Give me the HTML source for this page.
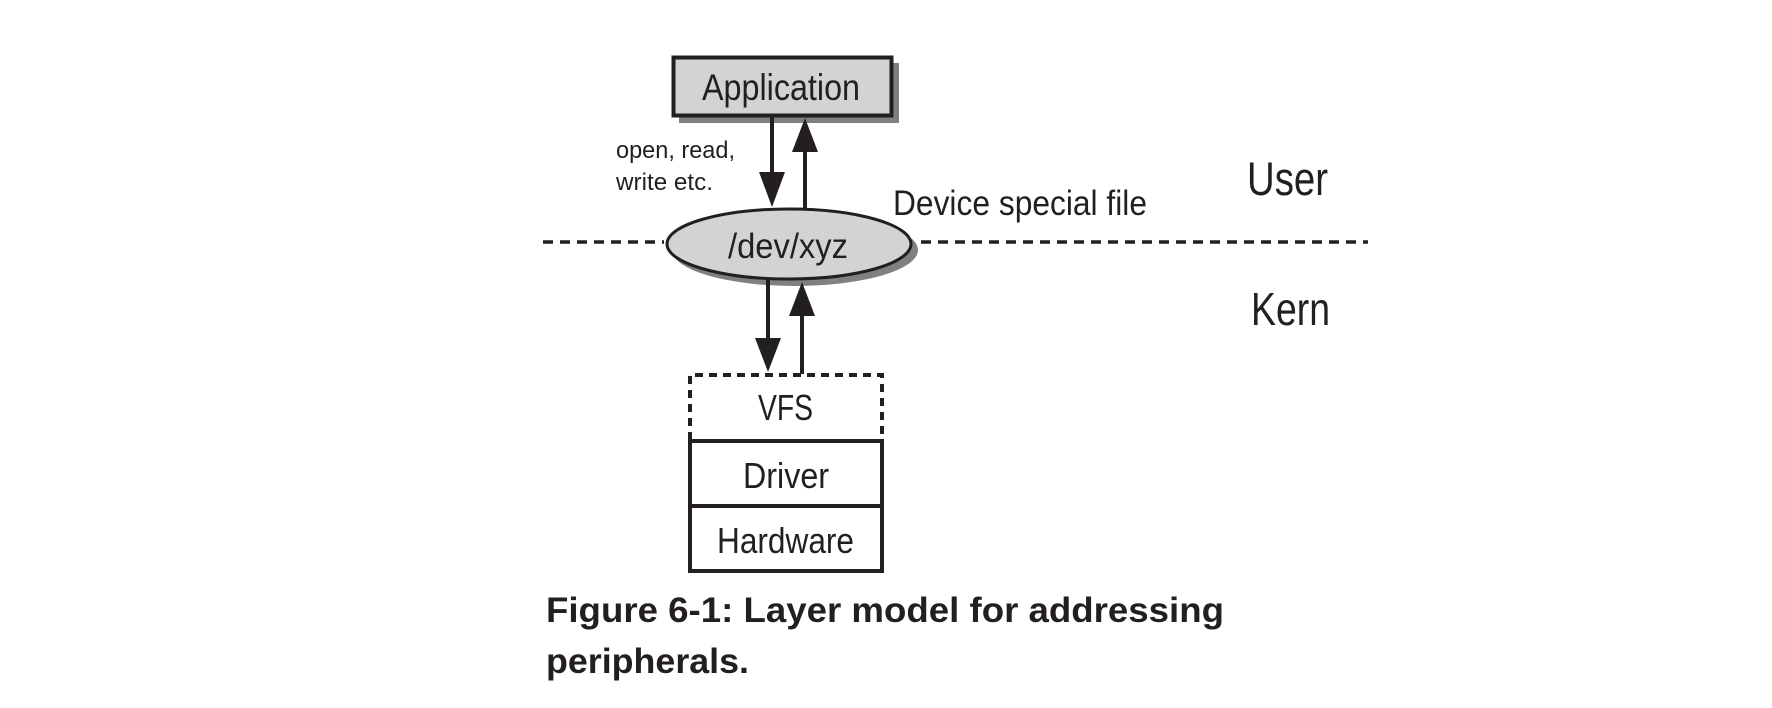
<!DOCTYPE html>
<html><head><meta charset="utf-8"><style>
html,body{margin:0;padding:0;background:#fff;}
svg{display:block;}
text{font-family:"Liberation Sans",sans-serif;fill:#231f20;}
</style></head><body>
<svg width="1772" height="708" viewBox="0 0 1772 708" xmlns="http://www.w3.org/2000/svg">
<!-- dashed separator -->
<line x1="543" y1="242" x2="664" y2="242" stroke="#231f20" stroke-width="3.5" stroke-dasharray="10,7"/>
<line x1="921" y1="242" x2="1368" y2="242" stroke="#231f20" stroke-width="3.5" stroke-dasharray="10,7"/>
<!-- Application box -->
<rect x="679" y="63" width="220" height="60" fill="#808080"/>
<rect x="673.5" y="57.5" width="218" height="58" fill="#d2d3d5" stroke="#231f20" stroke-width="4"/>
<text x="702" y="100" font-size="37" textLength="158" lengthAdjust="spacingAndGlyphs">Application</text>
<!-- top arrows -->
<line x1="772" y1="116" x2="772" y2="180" stroke="#231f20" stroke-width="4"/>
<polygon points="759,172 785,172 772,207" fill="#231f20"/>
<line x1="805" y1="140" x2="805" y2="208" stroke="#231f20" stroke-width="4"/>
<polygon points="792,152 818,152 805,118" fill="#231f20"/>
<text x="616" y="158" font-size="24" textLength="119" lengthAdjust="spacingAndGlyphs">open, read,</text>
<text x="616" y="190" font-size="24" textLength="97" lengthAdjust="spacingAndGlyphs">write etc.</text>
<!-- ellipse -->
<ellipse cx="795" cy="250" rx="123" ry="36" fill="#808080"/>
<ellipse cx="789" cy="244" rx="122" ry="35" fill="#d2d3d5" stroke="#231f20" stroke-width="3"/>
<text x="728" y="258" font-size="35" textLength="120" lengthAdjust="spacingAndGlyphs">/dev/xyz</text>
<text x="893" y="215" font-size="35" textLength="254" lengthAdjust="spacingAndGlyphs">Device special file</text>
<text x="1247" y="195" font-size="47" textLength="81" lengthAdjust="spacingAndGlyphs">User</text>
<text x="1251" y="325" font-size="46" textLength="79" lengthAdjust="spacingAndGlyphs">Kern</text>
<!-- lower arrows -->
<line x1="768" y1="280" x2="768" y2="345" stroke="#231f20" stroke-width="4"/>
<polygon points="755,338 781,338 768,372" fill="#231f20"/>
<line x1="802" y1="305" x2="802" y2="374" stroke="#231f20" stroke-width="4"/>
<polygon points="789,316 815,316 802,282" fill="#231f20"/>
<!-- VFS dashed box -->
<path d="M690,440 L690,375 L882,375 L882,440" fill="none" stroke="#231f20" stroke-width="4" stroke-dasharray="8,6"/>
<text x="758" y="420" font-size="36" textLength="55" lengthAdjust="spacingAndGlyphs">VFS</text>
<rect x="690" y="441" width="192" height="130" fill="none" stroke="#231f20" stroke-width="4"/>
<line x1="690" y1="506" x2="882" y2="506" stroke="#231f20" stroke-width="4"/>
<text x="743" y="488" font-size="36" textLength="86" lengthAdjust="spacingAndGlyphs">Driver</text>
<text x="717" y="553" font-size="36" textLength="137" lengthAdjust="spacingAndGlyphs">Hardware</text>
<!-- caption -->
<text x="546" y="622" font-size="35" font-weight="bold" textLength="678" lengthAdjust="spacingAndGlyphs">Figure 6-1: Layer model for addressing</text>
<text x="546" y="673" font-size="35" font-weight="bold" textLength="203" lengthAdjust="spacingAndGlyphs">peripherals.</text>
</svg>
</body></html>
